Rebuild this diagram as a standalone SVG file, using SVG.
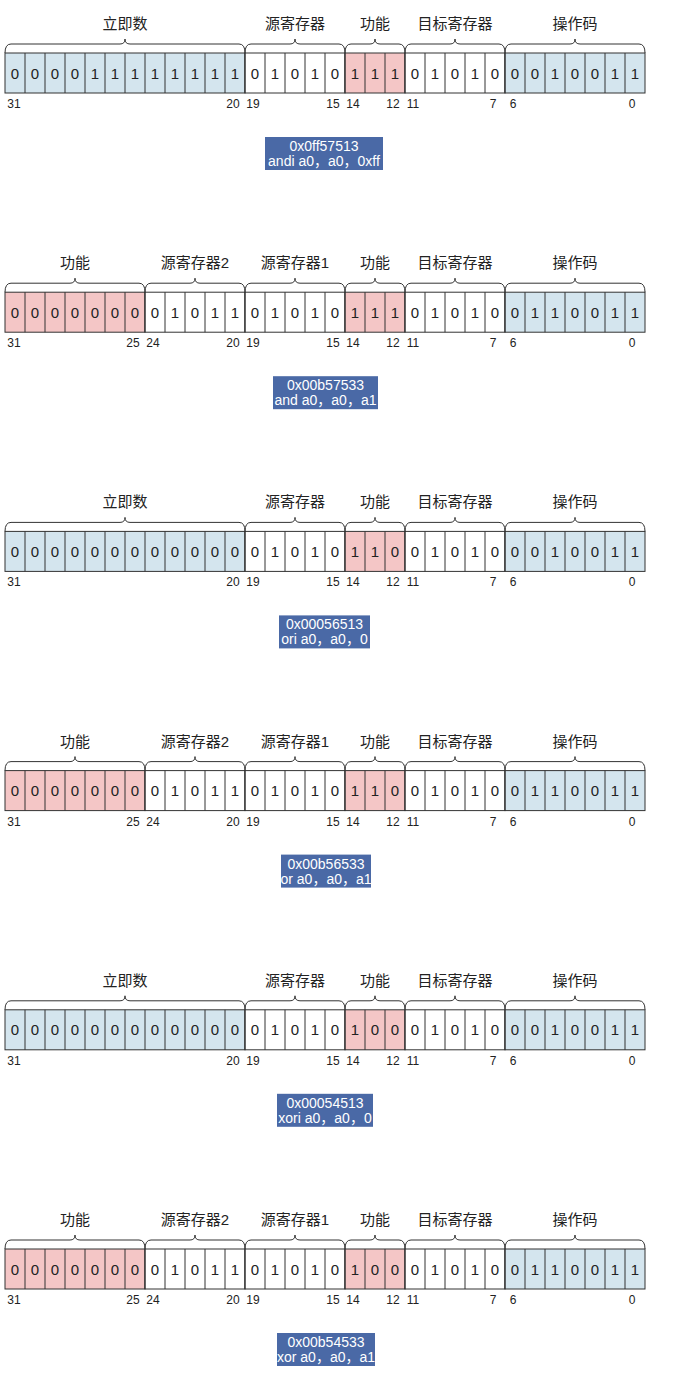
<svg xmlns="http://www.w3.org/2000/svg" xmlns:xlink="http://www.w3.org/1999/xlink" width="696" height="1374" viewBox="0 0 696 1374">
<style>
text{font-family:"Liberation Sans","Noto Sans CJK SC",sans-serif;fill:#222}
.t{font-size:15px;text-anchor:middle}
.d{font-size:15px;text-anchor:middle}
.n{font-size:12px;text-anchor:middle}
.bt{font-size:14px;text-anchor:middle;fill:#fff}
.bx{fill:#4a69a6}
.blue{fill:#d4e5ee;stroke:#333;stroke-width:1}
.pink{fill:#f4c6c6;stroke:#333;stroke-width:1}
.white{fill:#fff;stroke:#333;stroke-width:1}
.grid{fill:none;stroke:#333;stroke-width:1}
.brace{fill:none;stroke:#333;stroke-width:1}
</style>
<defs>
<path id="grid" class="grid" d="M25 53V93M45 53V93M65 53V93M85 53V93M105 53V93M125 53V93M145 53V93M165 53V93M185 53V93M205 53V93M225 53V93M245 53V93M265 53V93M285 53V93M305 53V93M325 53V93M345 53V93M365 53V93M385 53V93M405 53V93M425 53V93M445 53V93M465 53V93M485 53V93M505 53V93M525 53V93M545 53V93M565 53V93M585 53V93M605 53V93M625 53V93"/>
<path id="braceI" class="brace" d="M5 53Q5 44 11 44H120Q125 44 125 39Q125 44 130 44H239Q245 44 245 53M245 53Q245 44 251 44H290Q295 44 295 39Q295 44 300 44H339Q345 44 345 53M345 53Q345 44 351 44H370Q375 44 375 39Q375 44 380 44H399Q405 44 405 53M405 53Q405 44 411 44H450Q455 44 455 39Q455 44 460 44H499Q505 44 505 53M505 53Q505 44 511 44H570Q575 44 575 39Q575 44 580 44H639Q645 44 645 53"/>
<path id="braceR" class="brace" d="M5 53Q5 44 11 44H70Q75 44 75 39Q75 44 80 44H139Q145 44 145 53M145 53Q145 44 151 44H190Q195 44 195 39Q195 44 200 44H239Q245 44 245 53M245 53Q245 44 251 44H290Q295 44 295 39Q295 44 300 44H339Q345 44 345 53M345 53Q345 44 351 44H370Q375 44 375 39Q375 44 380 44H399Q405 44 405 53M405 53Q405 44 411 44H450Q455 44 455 39Q455 44 460 44H499Q505 44 505 53M505 53Q505 44 511 44H570Q575 44 575 39Q575 44 580 44H639Q645 44 645 53"/>
<g id="rowI">
<rect class="blue" x="5" y="53" width="240" height="40"/>
<rect class="white" x="245" y="53" width="100" height="40"/>
<rect class="pink" x="345" y="53" width="60" height="40"/>
<rect class="white" x="405" y="53" width="100" height="40"/>
<rect class="blue" x="505" y="53" width="140" height="40"/>
<use href="#grid"/>
<use href="#braceI"/>
<text class="t" x="125" y="29">立即数</text>
<text class="t" x="295" y="29">源寄存器</text>
<text class="t" x="375" y="29">功能</text>
<text class="t" x="455" y="29">目标寄存器</text>
<text class="t" x="575" y="29">操作码</text>
<text class="n" y="108" x="14">31</text>
<text class="n" y="108" x="233">20</text>
<text class="n" y="108" x="253">19</text>
<text class="n" y="108" x="333">15</text>
<text class="n" y="108" x="353">14</text>
<text class="n" y="108" x="393">12</text>
<text class="n" y="108" x="413">11</text>
<text class="n" y="108" x="493">7</text>
<text class="n" y="108" x="513">6</text>
<text class="n" y="108" x="632">0</text>
</g>
<g id="rowR">
<rect class="pink" x="5" y="53" width="140" height="40"/>
<rect class="white" x="145" y="53" width="100" height="40"/>
<rect class="white" x="245" y="53" width="100" height="40"/>
<rect class="pink" x="345" y="53" width="60" height="40"/>
<rect class="white" x="405" y="53" width="100" height="40"/>
<rect class="blue" x="505" y="53" width="140" height="40"/>
<use href="#grid"/>
<use href="#braceR"/>
<text class="t" x="75" y="29">功能</text>
<text class="t" x="195" y="29">源寄存器2</text>
<text class="t" x="295" y="29">源寄存器1</text>
<text class="t" x="375" y="29">功能</text>
<text class="t" x="455" y="29">目标寄存器</text>
<text class="t" x="575" y="29">操作码</text>
<text class="n" y="108" x="14">31</text>
<text class="n" y="108" x="133">25</text>
<text class="n" y="108" x="153">24</text>
<text class="n" y="108" x="233">20</text>
<text class="n" y="108" x="253">19</text>
<text class="n" y="108" x="333">15</text>
<text class="n" y="108" x="353">14</text>
<text class="n" y="108" x="393">12</text>
<text class="n" y="108" x="413">11</text>
<text class="n" y="108" x="493">7</text>
<text class="n" y="108" x="513">6</text>
<text class="n" y="108" x="632">0</text>
</g>
</defs>

<g id="andi" transform="translate(0,0)">
<use href="#rowI"/>
<text class="d" y="78.5" x="15 35 55 75 95 115 135 155 175 195 215 235 255 275 295 315 335 355 375 395 415 435 455 475 495 515 535 555 575 595 615 635">00001111111101010111010100010011</text>
<rect class="bx" x="265" y="137" width="118" height="33"/>
<text class="bt" x="324" y="151">0x0ff57513</text>
<text class="bt" x="324" y="166">andi a0，a0，0xff</text>
</g>

<g id="and" transform="translate(0,239.2)">
<use href="#rowR"/>
<text class="d" y="78.5" x="15 35 55 75 95 115 135 155 175 195 215 235 255 275 295 315 335 355 375 395 415 435 455 475 495 515 535 555 575 595 615 635">00000000101101010111010100110011</text>
<rect class="bx" x="273" y="137" width="105" height="33"/>
<text class="bt" x="325.5" y="151">0x00b57533</text>
<text class="bt" x="325.5" y="166">and a0，a0，a1</text>
</g>

<g id="ori" transform="translate(0,478.4)">
<use href="#rowI"/>
<text class="d" y="78.5" x="15 35 55 75 95 115 135 155 175 195 215 235 255 275 295 315 335 355 375 395 415 435 455 475 495 515 535 555 575 595 615 635">00000000000001010110010100010011</text>
<rect class="bx" x="279" y="137" width="91" height="33"/>
<text class="bt" x="324.5" y="151">0x00056513</text>
<text class="bt" x="324.5" y="166">ori a0，a0，0</text>
</g>

<g id="or" transform="translate(0,717.6)">
<use href="#rowR"/>
<text class="d" y="78.5" x="15 35 55 75 95 115 135 155 175 195 215 235 255 275 295 315 335 355 375 395 415 435 455 475 495 515 535 555 575 595 615 635">00000000101101010110010100110011</text>
<rect class="bx" x="281" y="137" width="90" height="33"/>
<text class="bt" x="326" y="151">0x00b56533</text>
<text class="bt" x="326" y="166">or a0，a0，a1</text>
</g>

<g id="xori" transform="translate(0,956.8)">
<use href="#rowI"/>
<text class="d" y="78.5" x="15 35 55 75 95 115 135 155 175 195 215 235 255 275 295 315 335 355 375 395 415 435 455 475 495 515 535 555 575 595 615 635">00000000000001010100010100010011</text>
<rect class="bx" x="277" y="137" width="96" height="33"/>
<text class="bt" x="325" y="151">0x00054513</text>
<text class="bt" x="325" y="166">xori a0，a0，0</text>
</g>

<g id="xor" transform="translate(0,1196)">
<use href="#rowR"/>
<text class="d" y="78.5" x="15 35 55 75 95 115 135 155 175 195 215 235 255 275 295 315 335 355 375 395 415 435 455 475 495 515 535 555 575 595 615 635">00000000101101010100010100110011</text>
<rect class="bx" x="277" y="137" width="98" height="33"/>
<text class="bt" x="326" y="151">0x00b54533</text>
<text class="bt" x="326" y="166">xor a0，a0，a1</text>
</g>
</svg>
